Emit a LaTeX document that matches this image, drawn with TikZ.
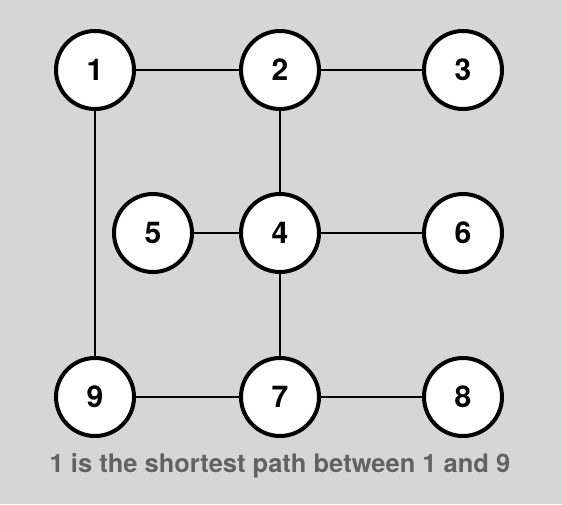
\documentclass[tikz,border=0pt]{standalone}
\usepackage{fontspec}
\setmainfont{TeX Gyre Heros}
\usepackage{tikz}
\usetikzlibrary{positioning}
\definecolor{PaperGray}{HTML}{D6D6D6}
\definecolor{CaptionGray}{HTML}{626262}
\tikzset{%
  vertex/.style={%
    circle,%
    draw=black,%
    fill=white,%
    line width=4pt,%
    minimum size=78pt,%
    inner sep=0pt,%
    font={\fontsize{30}{30}\selectfont\bfseries},%
  },
  edge/.style={%
    draw=black,%
    line width=1.5pt,%
  },
  caption/.style={%
    color=CaptionGray,%
    font={\fontsize{25.5}{25.5}\selectfont\bfseries},%
  },
}
\begin{document}
\begin{tikzpicture}[x=1pt, y=1pt]
  \fill[PaperGray] (0,0) rectangle (562,-504);
  \useasboundingbox (0,0) rectangle (562,-504);

  \node[vertex] (N1) at (95,-70) {1};
  \node[vertex, right = 103pt of N1] (N2) {2};
  \node[vertex, right = 101pt of N2] (N3) {3};
  \node[vertex, below = 81pt of N2] (N4) {4};
  \node[vertex, left = 45pt of N4] (N5) {5};
  \node[vertex, right = 101pt of N4] (N6) {6};
  \node[vertex, below = 82pt of N4] (N7) {7};
  \node[vertex, left = 103pt of N7] (N9) {9};
  \node[vertex, right = 101pt of N7] (N8) {8};
  \node[caption] (CAP) at (280,-466) {1 is the shortest path between 1 and 9};

  \draw[edge] (N1) -- (N2);
  \draw[edge] (N2) -- (N3);
  \draw[edge] (N2) -- (N4);
  \draw[edge] (N5) -- (N4);
  \draw[edge] (N4) -- (N6);
  \draw[edge] (N4) -- (N7);
  \draw[edge] (N9) -- (N7);
  \draw[edge] (N7) -- (N8);
  \draw[edge] (N1) -- (N9);

\end{tikzpicture}
\end{document}
